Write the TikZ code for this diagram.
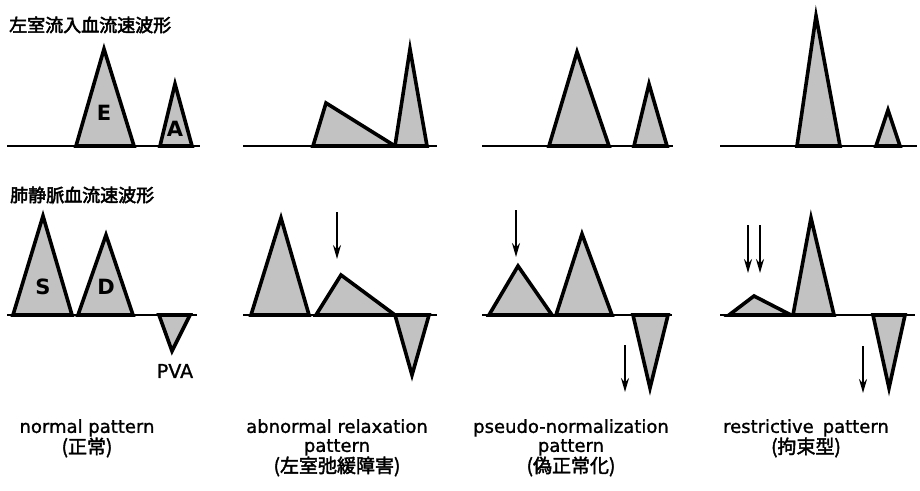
\documentclass[tikz,border=0pt]{standalone}
\usepackage{fontspec}
\setmainfont{DejaVu Sans}
\newfontfamily\capfont{DejaVu Sans}[FakeBold=1.2]
\newfontfamily\cjk{Noto Sans CJK JP}[FakeBold=2.8]
\newfontfamily\cjkcap{Noto Sans CJK JP}[FakeBold=2.2]
\usetikzlibrary{arrows.meta}
\newcommand{\jp}[1]{{\cjkcap\fontsize{19}{19}\selectfont #1}}
\tikzset{
  wave/.style={draw=black, line width=3.6pt, fill=black!24, line join=miter},
  base/.style={draw=black, line width=1.8pt},
  marker/.style={draw=black, line width=1.8pt, -{Stealth[length=14pt,width=8pt]}},
  caption/.style={font=\capfont\fontsize{18}{19}\selectfont, inner sep=0pt, align=center, anchor=north},
  title/.style={font=\cjk\fontsize{18}{20}\selectfont, inner sep=0pt, anchor=west},
  wlabel/.style={font=\bfseries\fontsize{21}{23}\selectfont, inner sep=0pt}
}
\begin{document}
\begin{tikzpicture}[x=1pt,y=-1pt]
\useasboundingbox[fill=white] (0,0) rectangle (920,490);

% titles
\node[title] (t1) at (9,25) {左室流入血流速波形};
\node[title] (t2) at (10,195) {肺静脈血流速波形};

% ===== top row: mitral inflow =====
% panel 1
\draw[base] (7,146) -- (200,146);
\draw[wave] (76,146) -- (104,49) -- (134,146) -- cycle;
\draw[wave] (160,146) -- (175,84) -- (192,146) -- cycle;
\node[wlabel] (lE) at (104,113) {E};
\node[wlabel] (lA) at (175,129) {A};
% panel 2
\draw[base] (243,146) -- (437,146);
\draw[wave] (313,146) -- (326,103) -- (395,146) -- cycle;
\draw[wave] (395,146) -- (410,49) -- (427,146) -- cycle;
% panel 3
\draw[base] (482,146) -- (673,146);
\draw[wave] (549,146) -- (577,52) -- (609,146) -- cycle;
\draw[wave] (634,146) -- (649,84) -- (667,146) -- cycle;
% panel 4
\draw[base] (720,146) -- (917,146);
\draw[wave] (797,146) -- (816,16) -- (840,146) -- cycle;
\draw[wave] (876,146) -- (888,110) -- (900,146) -- cycle;

% ===== bottom row: pulmonary venous flow =====
% panel 1
\draw[base] (7,315) -- (197,315);
\draw[wave] (13,315) -- (43,216) -- (72,315) -- cycle;
\draw[wave] (78,315) -- (106,235) -- (133,315) -- cycle;
\draw[wave] (159,315) -- (172,351) -- (190,315) -- cycle;
\node[wlabel] (lS) at (43,287) {S};
\node[wlabel] (lD) at (106,287) {D};
\node[font=\capfont\fontsize{19}{21}\selectfont, inner sep=0pt] (lP) at (175,371) {PVA};
% panel 2
\draw[base] (243,315) -- (437,315);
\draw[wave] (251,315) -- (281,218) -- (309,315) -- cycle;
\draw[wave] (316,315) -- (341,275) -- (395,315) -- cycle;
\draw[wave] (395,315) -- (412,375) -- (429,315) -- cycle;
\coordinate (a2s) at (337,212);
\coordinate (a2e) at (337,259);
\draw[marker] (a2s) -- (a2e);
% panel 3
\draw[base] (482,315) -- (672,315);
\draw[wave] (489,315) -- (518,266) -- (552,315) -- cycle;
\draw[wave] (556,315) -- (582,234) -- (612,315) -- cycle;
\draw[wave] (633,315) -- (650,388) -- (668,315) -- cycle;
\coordinate (a3s) at (516,210);
\coordinate (a3e) at (516,257);
\draw[marker] (a3s) -- (a3e);
\coordinate (b3s) at (625,345);
\coordinate (b3e) at (625,392);
\draw[marker] (b3s) -- (b3e);
% panel 4
\draw[base] (720,315) -- (915,315);
\draw[wave] (729,315) -- (754,296) -- (791,315) -- cycle;
\draw[wave] (793,315) -- (811,218) -- (834,315) -- cycle;
\draw[wave] (873,315) -- (889,388) -- (905,315) -- cycle;
\coordinate (a4s) at (748,225);
\coordinate (a4e) at (748,273);
\draw[marker] (a4s) -- (a4e);
\coordinate (c4s) at (760,225);
\coordinate (c4e) at (760,273);
\draw[marker] (c4s) -- (c4e);
\coordinate (b4s) at (863,346);
\coordinate (b4e) at (863,393);
\draw[marker] (b4s) -- (b4e);

% ===== captions =====
\node[caption] (n1) at (87,419) {normal pattern\\\jp{(正常)}};
\node[caption] (n2) at (337,419) {abnormal relaxation\\pattern\\\jp{(左室弛緩障害)}};
\node[caption] (n3) at (571,419) {pseudo-normalization\\pattern\\\jp{(偽正常化)}};
\node[caption] (n4) at (806,419) {restrictive\enspace pattern\\\jp{(拘束型)}};
\end{tikzpicture}
\end{document}
